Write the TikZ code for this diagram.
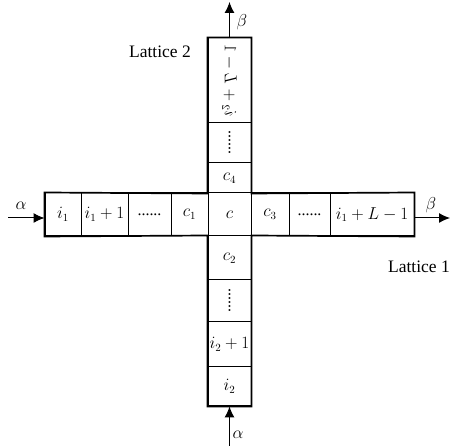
\documentclass[tikz,border=0pt]{standalone}
\usepackage{fontspec}
\setmainfont{Liberation Serif}
\usetikzlibrary{arrows.meta}
\begin{document}
\begin{tikzpicture}[x=1pt,y=-1pt,
  cell/.style={draw, line width=1pt, inner sep=0pt, font=\fontsize{16}{18}\selectfont},
  outline/.style={line width=1.7pt, line join=miter},
  flow/.style={-{Latex[length=11pt,width=10pt]}, line width=1pt},
  lbl/.style={font=\fontsize{17.5}{19}\selectfont, inner sep=0pt},
  greek/.style={font=\fontsize{18}{20}\selectfont, inner sep=0pt}]
\useasboundingbox (0,0) rectangle (451,446);
% horizontal bar, y 193..236
\def\hc#1#2#3#4{\node[cell, minimum width=#3pt-#2pt, minimum height=43pt] (#1) at ({(#2+#3)/2},214.5) {#4};}
\hc{h1}{45}{81}{$i_1$}
\hc{h2}{81}{128}{$i_1+1$}
\hc{h3}{128}{171}{......}
\hc{h4}{171}{208}{$c_1$}
\hc{hc}{208}{251}{$c$}
\hc{h6}{251}{289}{$c_3$}
\hc{h7}{289}{330}{......}
\hc{h8}{330}{414}{$i_1+L-1$}
% vertical bar, x 208..251
\def\vc#1#2#3#4{\node[cell, minimum width=43pt, minimum height=#3pt-#2pt] (#1) at (229.5,{(#2+#3)/2}) {#4};}
\vc{v1}{38}{123}{}
\vc{v2}{123}{163}{}
\vc{v3}{163}{193}{$c_4$}
\vc{v5}{236}{280}{$c_2$}
\vc{v6}{280}{322}{}
\vc{v7}{322}{367}{$i_2+1$}
\vc{v8}{367}{406}{$i_2$}
\node[cell, draw=none, rotate=-90, xscale=-1] (t1) at (v1) {$i_2+L-1$};
\node[cell, draw=none, rotate=-90] (t2) at (v2) {......};
\node[cell, draw=none, rotate=-90] (t6) at (v6) {......};
% outer outline of the cross
\draw[outline] (v1.north west) -- (v1.north east) -- (v3.south east) -- (h8.north east)
  -- (h8.south east) -- (v5.north east) -- (v8.south east) -- (v8.south west)
  -- (v5.north west) -- (h1.south west) -- (h1.north west) -- (v3.south west) -- cycle;
% arrows
\coordinate (inL) at (8,218);
\coordinate (outR) at (450,218);
\coordinate (outT) at (229.5,2);
\coordinate (inB) at (229.5,446);
\draw[flow] (inL) -- (h1.west |- inL);
\draw[flow] (h8.east |- outR) -- (outR);
\draw[flow] (v1.north) -- (outT);
\draw[flow] (inB) -- (v8.south);
\node[greek] (a1) at (21,206) {$\alpha$};
\node[greek] (b1) at (431,205) {$\beta$};
\node[greek] (b2) at (242,22) {$\beta$};
\node[greek] (a2) at (238,435) {$\alpha$};
\node[lbl] (lat2) at (160,52) {Lattice 2};
\node[lbl] (lat1) at (419,267) {Lattice 1};
\end{tikzpicture}
\end{document}
